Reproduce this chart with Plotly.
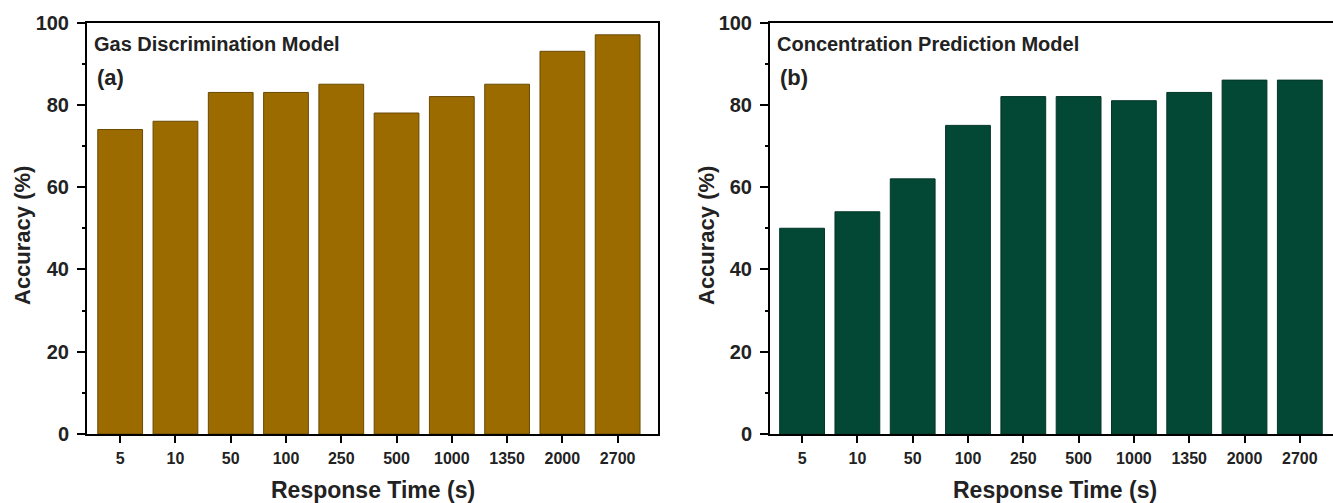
import plotly.graph_objects as go

categories = ["5", "10", "50", "100", "250", "500", "1000", "1350", "2000", "2700"]
gas_accuracy = [74, 76, 83, 83, 85, 78, 82, 85, 93, 97]
conc_accuracy = [50, 54, 62, 75, 82, 82, 81, 83, 86, 86]

W, H = 1333, 503
FONT = "Arial, Liberation Sans, sans-serif"


def px(x):
    return x / W


def py(y):
    return 1 - y / H


fig = go.Figure()
fig.add_trace(go.Bar(x=categories, y=gas_accuracy, width=0.81,
                     marker=dict(color="#9b6b00", line=dict(color="#6a4a05", width=1)),
                     xaxis="x", yaxis="y", showlegend=False))
fig.add_trace(go.Bar(x=categories, y=conc_accuracy, width=0.81,
                     marker=dict(color="#034834", line=dict(color="#033628", width=1)),
                     xaxis="x2", yaxis="y2", showlegend=False))

xcommon = dict(type="category", showgrid=False, zeroline=False, showline=True, automargin=False,
               linecolor="black", linewidth=2, ticks="outside", ticklen=7, tickwidth=2,
               tickcolor="black", ticklabelstandoff=2,
               tickfont=dict(family=FONT, size=16, color="#222", weight="bold"))
ycommon = dict(range=[0, 100], dtick=20, showgrid=False, zeroline=False, showline=True, automargin=False,
               linecolor="black", linewidth=2, ticks="outside", ticklen=8, tickwidth=2,
               tickcolor="black", ticklabelstandoff=4,
               tickfont=dict(family=FONT, size=20, color="#222", weight="bold"),
               minor=dict(dtick=10, ticks="outside", ticklen=3, tickwidth=2, tickcolor="black"))

y0, y1 = py(434), py(22.5)

fig.update_layout(
    width=W, height=H, margin=dict(l=0, r=0, t=0, b=0, autoexpand=False),
    paper_bgcolor="white", plot_bgcolor="white",
    font=dict(family=FONT, color="#222"),
    xaxis=dict(xcommon, domain=[px(87), px(658)], range=[-0.6, 9.73], anchor="y", mirror=True),
    yaxis=dict(ycommon, domain=[y0, y1], anchor="x", mirror=True),
    xaxis2=dict(xcommon, domain=[px(770), 1], range=[-0.58, 9.6], anchor="y2", mirror=True),
    yaxis2=dict(ycommon, domain=[y0, y1], anchor="x2", mirror=False),
    bargap=0.19,
)

ann = []
for x_title_c, y_title_c, label_x, model, tag in [
    (373, 22, 95, "Gas Discrimination Model", "(a)"),
    (1055, 706, 778, "Concentration Prediction Model", "(b)"),
]:
    ann.append(dict(x=px(x_title_c), y=py(490), xref="paper", yref="paper",
                    text="<b>Response Time (s)</b>", showarrow=False,
                    xanchor="center", yanchor="middle",
                    font=dict(family=FONT, size=23, color="#222")))
    ann.append(dict(x=px(y_title_c), y=py(236), xref="paper", yref="paper",
                    text="<b>Accuracy (%)</b>", showarrow=False, textangle=-90,
                    xanchor="center", yanchor="middle",
                    font=dict(family=FONT, size=22, color="#222")))
    ann.append(dict(x=px(label_x - 3), y=py(44), xref="paper", yref="paper",
                    text="<b>" + model + "</b>", showarrow=False,
                    xanchor="left", yanchor="middle",
                    font=dict(family=FONT, size=20, color="#222")))
    ann.append(dict(x=px(label_x), y=py(77), xref="paper", yref="paper",
                    text="<b>" + tag + "</b>", showarrow=False,
                    xanchor="left", yanchor="middle",
                    font=dict(family=FONT, size=22, color="#222")))

fig.update_layout(annotations=ann)
fig.write_html("out.html")
